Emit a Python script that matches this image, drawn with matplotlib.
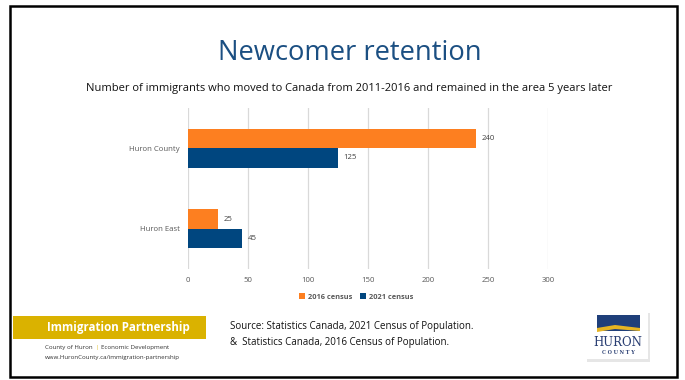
import matplotlib.pyplot as plt
from matplotlib.patches import Rectangle, Polygon
import numpy as np

areas = ["Huron East", "Huron County"]
census_2016 = [25, 240]
census_2021 = [45, 125]
series_names = ["2016 census", "2021 census"]
x_ticks = [0, 50, 100, 150, 200, 250, 300]

ORANGE = "#FD7F20"
BLUE = "#00467F"
GOLD = "#DAB200"
TITLE_BLUE = "#1B4F82"

plt.rcParams['font.family'] = ['Open Sans', 'DejaVu Sans']

fig = plt.figure(figsize=(6.85, 3.8), dpi=100)
W, H = 685, 380


def fx(px):
    return px / W


def fy(py):
    return 1 - py / H


# slide frame
fig.patches.append(Rectangle((fx(10), fy(377)), fx(667), (377 - 6) / H, transform=fig.transFigure,
                             fill=False, edgecolor="black", linewidth=1.8))

fig.text(fx(350), fy(53), "Newcomer retention", ha="center", va="center", fontsize=19.7, color=TITLE_BLUE)
fig.text(fx(349), fy(89), "Number of immigrants who moved to Canada from 2011-2016 and remained in the area 5 years later",
         ha="center", va="center", fontsize=8.0, color="#111111")

ax = fig.add_axes([fx(188), fy(269), 360 / W, 161 / H])
y = np.arange(len(areas))
h = 0.24
b1 = ax.barh(y + h / 2, census_2016, height=h, color=ORANGE, label=series_names[0])
b2 = ax.barh(y - h / 2, census_2021, height=h, color=BLUE, label=series_names[1])
for bars in (b1, b2):
    ax.bar_label(bars, padding=4, fontsize=5.6, color="#404040")

ax.set_xlim(0, 300)
ax.set_ylim(-0.5, 1.5)
ax.set_xticks(x_ticks)
ax.set_yticks(y)
ax.set_yticklabels(areas)
ax.tick_params(length=0, labelsize=5.6, colors="#595959", pad=6)
ax.xaxis.grid(True, color="#D9D9D9", linewidth=0.9)
ax.set_axisbelow(True)
for s in ax.spines.values():
    s.set_visible(False)

fig.legend(handles=[b1, b2], loc="center", bbox_to_anchor=(fx(356), fy(297)), ncol=2, frameon=False,
           prop={"size": 5.3, "weight": "bold"}, labelcolor="#595959", handlelength=0.8, handleheight=0.8,
           handletextpad=0.4, columnspacing=1.0)

# footer band
fig.patches.append(Rectangle((fx(13), fy(339)), fx(193), 23 / H, transform=fig.transFigure,
                             color=GOLD, linewidth=0))
fig.text(fx(118), fy(327.5), "Immigration Partnership", ha="center", va="center", fontsize=8.3,
         fontweight="bold", color="white")
fig.text(fx(45), fy(348), "County of Huron", ha="left", va="center", fontsize=4.4, color="#333333")
fig.text(fx(95.5), fy(348), "|", ha="left", va="center", fontsize=4.4, color=GOLD)
fig.text(fx(101), fy(348), "Economic Development", ha="left", va="center", fontsize=4.4, color="#333333")
fig.text(fx(45), fy(357), "www.HuronCounty.ca/immigration-partnership", ha="left", va="center",
         fontsize=4.4, color="#333333")

fig.text(fx(230), fy(327), "Source: Statistics Canada, 2021 Census of Population.", ha="left", va="center",
         fontsize=7.0, color="#111111")
fig.text(fx(230), fy(342), "&  Statistics Canada, 2016 Census of Population.", ha="left", va="center",
         fontsize=7.0, color="#111111")

# county logo
fig.patches.append(Rectangle((fx(587), fy(362)), fx(63), 49 / H, transform=fig.transFigure,
                             facecolor="#E6E6E6", edgecolor="none"))
fig.patches.append(Rectangle((fx(585), fy(359)), fx(63), 49 / H, transform=fig.transFigure,
                             facecolor="white", edgecolor="none"))
fig.patches.append(Rectangle((fx(597), fy(331)), fx(43), 16 / H, transform=fig.transFigure,
                             facecolor="#1F3F7A", edgecolor="none"))
fig.patches.append(Polygon([(fx(597), fy(328)), (fx(615), fy(325)), (fx(640), fy(328)), (fx(640), fy(331)),
                            (fx(615), fy(329)), (fx(597), fy(332))], closed=True, transform=fig.transFigure,
                           facecolor="#E6B422", edgecolor="none"))
fig.text(fx(618), fy(343), "HURON", ha="center", va="center", fontsize=8.5, family="DejaVu Serif",
         color="#2A3F73")
fig.text(fx(618), fy(352), "C O U N T Y", ha="center", va="center", fontsize=3.5, family="DejaVu Serif",
         color="#2A3F73", fontweight="bold")

fig.savefig("out.png", dpi=100)
